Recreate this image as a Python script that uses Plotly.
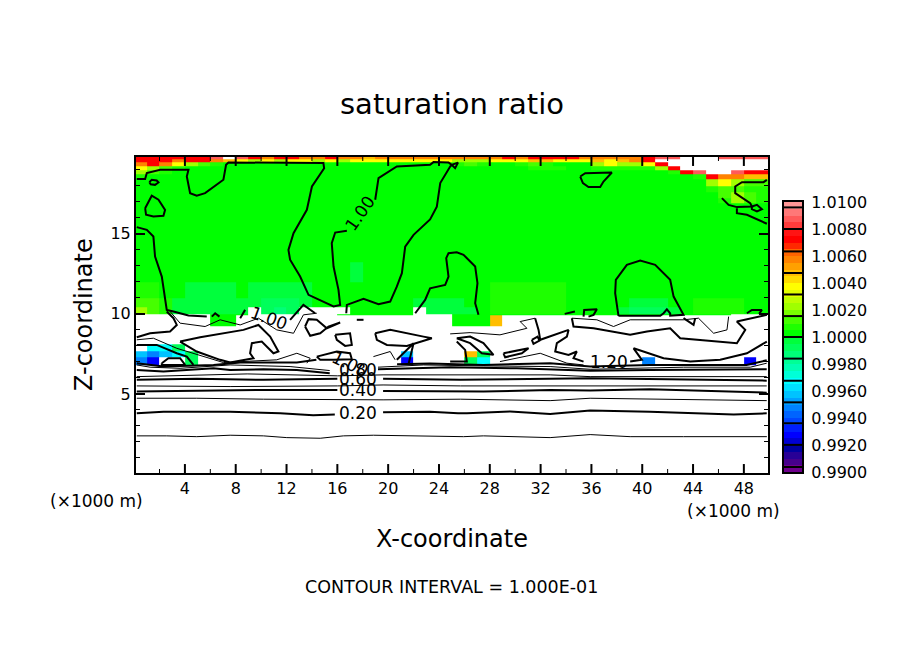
import plotly.graph_objects as go

# shades of the ratio field (None = outside the colour range, left white)
W = None
P = 1.0088
R = 1.0072
O = 1.0055
A = 1.0047
Y = 1.0037
K = 1.0022
L = 1.0012
H = 1.0007
G = 1.0002
S = 0.9998
T = 0.9993
U = 0.9987
C = 0.9967
D = 0.9957
E = 0.9947
B = 0.9927

x_edges = list(range(0, 51))
y_edges = [19.85, 19.65, 19.5, 19.2, 19.0, 18.7, 18.4, 18.0, 17.6, 17.2, 16.9, 13.2, 12.0, 11.0, 10.4, 10.0, 9.92, 9.25, 8.1, 7.7, 7.3, 6.8]

row_01 = [R,R,R,R,R,R,P,W,P,R, O,R,R,O,O,R,O,O,A,O, O,O,O,O,O,O,O,O,O,R, O,R,R,R,R,O,O,O,O,O, R,P,P,W,W,W,P,P,P,P]
row_02 = [R,R,R,O,R,R,O,A,Y,K, Y,K,Y,Y,K,Y,K,Y,Y,Y, Y,Y,Y,Y,Y,K,K,K,Y,Y, Y,A,A,Y,Y,Y,A,Y,A,O, R,W,W,W,W,W,W,W,W,W]
row_03 = [O,R,O,Y,K,L,H,G,G,G, G,G,G,G,G,G,G,G,G,G, G,G,G,G,G,H,L,H,G,G, H,L,H,G,G,G,K,Y,K,K, Y,R,W,W,W,W,W,W,W,W]
row_04 = [Y,K,L,H,G,G,G,G,G,G, G,G,G,G,G,G,G,G,G,G, G,G,G,G,G,G,G,G,G,G, G,H,H,H,G,G,H,H,H,H, H,K,R,W,W,W,W,W,W,W]
row_05 = [K,L,H,G,G,G,G,G,G,G, G,G,G,G,G,G,G,G,G,G, G,G,G,G,G,G,G,G,G,G, G,G,G,G,G,G,G,G,G,G, G,G,H,R,P,W,W,P,R,R]
row_06 = [H,G,G,G,G,G,G,G,G,G, G,G,G,G,G,G,G,G,G,G, G,G,G,G,G,G,G,G,G,G, G,G,G,G,G,G,G,G,G,G, G,G,G,G,H,R,O,O,A,A]
row_07 = [G,G,G,G,G,G,G,G,G,G, G,G,G,G,G,G,G,G,G,G, G,G,G,G,G,G,G,G,G,G, G,G,G,G,G,G,G,G,G,G, G,G,G,G,G,K,Y,K,L,L]
row_08 = [G,G,G,G,G,G,G,G,G,G, G,G,G,G,G,G,G,G,G,G, G,G,G,G,G,G,G,G,G,G, G,G,G,G,G,G,G,G,G,G, G,G,G,G,G,H,L,L,H,H]
row_09 = [G,G,G,G,G,G,G,G,G,G, G,G,G,G,G,G,G,G,G,G, G,G,G,G,G,G,G,G,G,G, G,G,G,G,G,G,G,G,G,G, G,G,G,G,G,G,L,K,L,H]
row_10 = [G,G,G,G,G,G,G,G,G,G, G,G,G,G,G,G,G,G,G,G, G,G,G,G,G,G,G,G,G,G, G,G,G,G,G,G,G,G,G,G, G,G,G,G,G,G,H,K,L,H]
row_11 = [G,G,G,G,G,G,G,G,G,G, G,G,G,G,G,G,G,G,G,G, G,G,G,G,G,G,G,G,G,G, G,G,G,G,G,G,G,G,G,G, G,G,G,G,G,G,G,G,G,G]
row_12 = [G,G,G,G,G,G,G,G,G,G, G,G,G,G,G,G,G,S,G,G, G,G,G,G,G,G,G,G,G,G, G,G,G,G,G,G,G,G,G,G, G,G,G,G,G,G,G,G,G,G]
row_13 = [H,H,G,G,S,S,S,S,G,S, S,S,S,S,G,G,G,G,G,G, G,G,G,G,G,G,G,G,H,H, H,H,H,H,G,G,G,G,G,G, G,G,G,G,G,G,G,G,G,G]
row_14 = [L,L,H,S,S,S,S,S,S,S, T,T,T,S,G,G,G,G,G,G, G,G,S,S,S,S,G,G,H,H, H,H,H,H,G,G,G,G,G,S, S,S,G,G,H,H,H,H,G,G]
row_15 = [K,L,H,S,S,S,S,S,S,W, T,U,T,W,W,W,W,G,G,G, G,G,W,S,S,S,S,G,H,H, H,H,H,H,G,G,G,G,S,T, T,T,S,G,H,H,H,H,G,G]
row_16 = [W,W,W,W,W,W,G,G,G,W, W,W,W,W,W,W,G,G,G,G, G,G,W,W,W,G,G,G,G,G, G,G,G,G,G,G,G,G,G,G, G,G,G,G,G,G,G,W,W,W]
row_17 = [W,W,W,W,W,W,G,G,W,W, W,W,W,W,W,W,W,W,W,W, W,W,W,W,W,G,G,G,A,W, W,W,W,W,W,W,W,W,W,W, W,W,W,W,W,W,W,W,W,W]
row_18 = [W,W,W,W,W,W,W,W,W,W, W,W,W,W,W,W,W,W,W,W, W,W,W,W,W,W,W,W,W,W, W,W,W,W,W,W,W,W,W,W, W,W,W,W,W,W,W,W,W,W]
row_19 = [W,C,C,T,W,W,W,W,W,W, W,W,W,W,W,W,W,W,W,W, W,W,W,W,W,W,W,W,W,W, W,W,W,W,W,W,W,W,W,W, W,W,W,W,W,W,W,W,W,W]
row_20 = [D,E,D,C,T,W,W,W,W,W, W,W,W,W,W,W,W,W,W,W, W,D,W,W,W,W,A,T,W,W, W,W,W,W,W,W,W,W,W,W, W,W,W,W,W,W,W,W,W,W]
row_21 = [E,B,W,W,T,W,W,W,W,W, W,W,W,W,W,W,W,W,W,W, W,B,W,W,W,W,T,C,W,W, W,W,W,W,W,W,W,W,W,W, E,W,W,W,W,W,W,W,B,W]

field_rows = [row_01, row_02, row_03, row_04, row_05, row_06, row_07, row_08, row_09, row_10, row_11,
              row_12, row_13, row_14, row_15, row_16, row_17, row_18, row_19, row_20, row_21]

# colour bar: level edges, colours from the top band down, black separators, labels
band_edges = [1.0100, 1.0095, 1.0090, 1.0085, 1.0080, 1.0075, 1.0070, 1.0065, 1.0060, 1.0055,
              1.0050, 1.0045, 1.0040, 1.0035, 1.0030, 1.0025, 1.0020, 1.0015, 1.0010, 1.0005,
              1.0000, 0.9995, 0.9990, 0.9985, 0.9980, 0.9975, 0.9970, 0.9965, 0.9960, 0.9955,
              0.9950, 0.9945, 0.9940, 0.9935, 0.9930, 0.9925, 0.9920, 0.9915, 0.9910, 0.9905, 0.9900]
band_colors = ["rgb(255,150,150)", "rgb(255,120,120)", "rgb(255,90,90)", "rgb(255,60,60)", "rgb(255,20,20)",
               "rgb(255,0,0)", "rgb(255,40,0)", "rgb(255,100,0)", "rgb(255,130,0)", "rgb(255,160,0)",
               "rgb(255,190,0)", "rgb(255,220,0)", "rgb(255,255,0)", "rgb(225,255,0)", "rgb(190,255,0)",
               "rgb(160,255,0)", "rgb(120,255,0)", "rgb(70,255,0)", "rgb(30,255,0)", "rgb(0,255,0)",
               "rgb(0,255,60)", "rgb(0,255,90)", "rgb(0,255,120)", "rgb(0,255,150)", "rgb(0,255,180)",
               "rgb(0,255,215)", "rgb(0,255,255)", "rgb(0,225,255)", "rgb(0,195,255)", "rgb(0,160,255)",
               "rgb(0,130,255)", "rgb(0,100,255)", "rgb(0,70,255)", "rgb(0,30,255)", "rgb(0,0,255)",
               "rgb(0,0,210)", "rgb(0,0,160)", "rgb(40,0,150)", "rgb(70,0,140)", "rgb(110,0,140)"]
bar_separators = [1.0096, 1.0080, 1.00634, 1.00474, 1.00315, 1.00155, 1.0000, 0.9984, 0.99676, 0.99516, 0.99361, 0.99201, 0.99037]
bar_ticks = [0.99, 0.992, 0.994, 0.996, 0.998, 1.0, 1.002, 1.004, 1.006, 1.008, 1.01]
bar_labels = ["0.9900", "0.9920", "0.9940", "0.9960", "0.9980", "1.0000", "1.0020", "1.0040", "1.0060", "1.0080", "1.0100"]

x_ticks = [4, 8, 12, 16, 20, 24, 28, 32, 36, 40, 44, 48]
x_minor = [2, 6, 10, 14, 18, 22, 26, 30, 34, 38, 42, 46]
y_ticks = [5, 10, 15]
y_minor = [1, 2, 3, 4, 6, 7, 8, 9, 11, 12, 13, 14, 16, 17, 18, 19]

# contour lines, (x km, z km)
c100_a = [(.21,18.42),(.87,18.42),(1.0,18.8),(2.05,19.0),(4.28,19.0),(4.15,18.58),(4.41,17.54),(4.93,17.38),(5.59,17.54),(7.03,18.38),(7.24,19.31),(7.43,19.46),(14.9,19.42),(14.96,19.1),(14.0,17.96),(13.6,16.5),(12.55,15.04),(12.15,14.0),(12.28,13.38),(13.07,12.33),(13.73,11.19),(15.7,10.46),(16.22,10.56),(16.09,11.5),(15.7,12.96),(15.56,14.42),(15.83,15.08),(16.75,15.19)]
c100_b = [(18.98,17.13),(19.24,18.48),(20.68,19.21),(23.3,19.31),(23.57,19.48),(24.75,19.46),(25.0,19.31),(25.27,19.1),(25.5,19.45),(25.0,19.31),(24.88,19.2),(24.1,18.17),(23.83,16.7),(23.3,15.9),(22,14.94),(21.34,14.2),(21.08,12.54),(20.68,11.7),(20.16,10.77),(19.24,10.6),(18.06,10.94),(16.75,10.56),(16.7,10.04)]
c100_c = [(22.13,10.04),(22.91,10.87),(23.3,11.6),(24.49,11.81),(24.75,12.33),(24.57,13.48),(24.75,13.79),(25.4,13.85),(25.93,13.69),(26.85,12.96),(27.03,11.92),(26.85,10.67),(27.11,9.94)]
c100_d = [(.21,15.42),(1.0,15.25),(1.52,14.83),(1.65,13.58),(2.18,12.33),(2.57,10.25),(3.1,10.15),(4.28,9.9),(5.72,9.83)]
c100_e = [(1.2,18.23),(1.39,18.38),(1.78,18.33),(1.92,18.21),(1.65,18.06),(1.31,18.1),(1.2,18.23)]
c100_f = [(.87,16.6),(1.39,17.38),(1.92,17.13),(2.44,16.5),(2.31,16.13),(1.52,16.08),(.94,16.19),(.87,16.6)]
c100_g = [(35.12,18.58),(35.51,18.79),(37.61,18.83),(36.95,18.27),(36.69,17.92),(35.77,17.92),(35.33,18.17),(35.12,18.58)]
c100_h = [(38.13,9.88),(37.87,11.29),(37.92,12.13),(38.79,13.06),(39.84,13.33),(41.02,13.06),(42.2,12.13),(42.47,11.08),(43.25,9.94),(42.2,9.88),(42.2,10.04),(41.94,10.29),(41.68,10.04),(41.42,9.88),(38.13,9.88)]
c100_i = [(35.38,9.83),(35.43,10.25),(36.43,10.29),(36.17,9.94),(35.77,9.83)]
c100_j = [(33.9,10.0),(34.7,10.15)]
c100_k = [(49.81,18.37),(49.55,18.23),(47.85,18.23),(47.32,17.96),(47.32,17.54),(48.5,16.92),(48.63,16.71),(47.45,16.67),(46.8,16.81),(46.27,17.23)]
c100_l = [(48.63,16.71),(49.03,16.81),(49.42,16.54),(49.03,16.4),(48.63,16.54),(48.63,16.71)]
c100_m = [(47.45,16.6),(47.45,16.29),(48.24,16.19),(49.81,15.63)]
c100_n = [(48.24,10.04),(48.63,10.25),(49.42,10.25),(49.2,10.0)]
c100_o = [(6.12,9.83),(6.38,10.04),(6.72,9.83)]
c100_p = [(8.35,9.73),(8.74,10.25)]
c100_q = [(12.28,9.62),(13.33,10.56),(14.25,10.04)]

c120_a = [(.21,8.54),(1.26,8.79),(2.83,8.9),(3.36,9.31),(3.1,9.73),(2.57,10.15)]
c120_b = [(3.62,8.27),(5.2,8.54),(8.61,9.0),(9.79,9.31),(10.71,8.58),(11.36,7.65),(10.97,7.54),(10.05,8.27),(9.27,8.17),(9.13,7.54),(9.4,7.23),(7.56,6.96),(6.77,7.13),(4.93,7.65),(3.62,8.27)]
c120_c = [(.21,8.06),(1.78,8.06),(3.36,7.54),(4.15,7.33),(4.67,6.81)]
c120_d = [(2.18,6.92),(2.7,7.23),(3.62,7.23),(4.02,6.81),(2.18,6.81),(2.18,6.92)]
c120_e = [(13.46,9.21),(13.73,9.67),(14.38,9.63),(15.17,9.1),(16.22,9.46),(15.3,9.21),(14.65,8.79),(13.86,8.63),(13.46,9.21)]
c120_f = [(15.83,8.69),(17.0,8.79),(17.14,8.06),(16.61,8.0),(15.96,8.38),(15.83,8.69)]
c120_g = [(14.38,7.33),(15.96,7.65),(17.0,7.54),(17.14,7.17),(15.7,7.13),(14.65,7.13),(14.38,7.33)]
c120_h = [(18.98,8.79),(20.16,9.0),(22.78,8.58),(23.44,8.48),(21.47,8.0),(19.9,8.06),(19.11,8.38),(18.98,8.79)]
c120_i = [(20.68,7.13),(22,8.17),(21.6,6.85)]
c120_j = [(17.53,9.63),(18.06,9.63)]
c120_k = [(25.4,8.48),(26.45,8.58),(27.5,8.17),(28.29,7.44),(27.37,7.54),(26.45,8.17),(25.4,8.48)]
c120_l = [(24.88,7.02),(26.19,7.02),(26.06,7.75),(25.4,8.27)]
c120_m = [(29.08,7.54),(31.05,7.85),(30.52,7.54),(29.21,7.29),(29.08,7.54)]
c120_n = [(31.31,8.38),(31.76,8.58),(31.91,8.33),(31.44,8.13),(31.31,8.38)]
c120_o = [(31.57,9.73),(31.84,9.0),(31.97,8.38),(34.2,9.0),(34.07,8.58),(33.28,8.17),(33.15,7.65),(34.2,7.44),(34.85,7.65),(34.59,7.23),(35.38,7.02)]
c120_p = [(39.05,7.02),(39.97,7.13),(39.32,7.85),(41.68,7.23),(43.78,7.02),(46.14,7.13),(48.24,7.54),(49.81,8.27)]
c120_q = [(34.46,9.73),(34.59,9.21),(36.17,9.1),(39.05,8.69),(40.37,8.9),(42.2,9.1),(42.99,8.48),(47.45,8.17),(48.11,9.0),(47.45,9.52),(49.81,9.94)]
c120_r = [(43.25,9.73),(44.04,9.31),(44.17,9.73)]

c110_a = [(.21,8.38),(1.52,8.48),(3.36,7.85),(5.46,7.33),(7.03,6.96),(11.23,7.13),(12.81,7.54),(13.86,7.23),(13.6,6.92)]
c110_b = [(2.83,10.15),(3.62,9.42),(5.59,9.21),(6.77,9.63),(8.35,9.31),(9.79,9.73),(11.23,9.0),(12.55,8.79),(13.33,9.94),(14.38,10.04)]
c110_c = [(18.84,7.33),(20.16,7.65),(20.55,7.13)]
c110_d = [(24.88,8.75),(26.45,8.83),(28.8,8.69),(30.92,9.1),(30.39,9.52),(31.57,9.73)]
c110_e = [(34.46,9.73),(36.43,9.63),(37.74,9.21),(39.05,9.63),(43.25,9.63),(44.43,9.73),(45.62,8.79),(46.67,9.0),(46.8,9.83)]
c110_f = [(28.8,7.02),(31.97,7.54),(34.07,6.92),(35.38,6.81)]

c010 = [(.21,2.38),(2.57,2.38),(4.93,2.33),(7.56,2.42),(10.18,2.38),(12.02,2.27),(14.65,2.23),(16.48,2.38),(18.84,2.42),(23.3,2.38),(25.93,2.33),(27.5,2.38),(30.13,2.33),(32.75,2.27),(35.9,2.46),(39.05,2.33),(43.25,2.33),(49.81,2.33)]
c020_a = [(.21,3.79),(2.31,3.88),(7.56,3.88),(11.5,3.79),(14.1,3.67),(15.8,3.71)]
c020_b = [(19.6,3.85),(23.3,3.88),(25.5,3.79),(26.2,3.79),(29.6,3.9),(32.75,3.75),(35.9,3.96),(40.6,3.88),(47.2,3.71),(49.8,3.79)]
c030 = [(.21,4.73),(4.93,4.73),(10.18,4.67),(16,4.63),(19.6,4.63),(25.7,4.67),(30.13,4.63),(32.75,4.58),(35.9,4.73),(40.6,4.67),(49.8,4.58)]
c040_a = [(.21,5.15),(4.93,5.19),(10.18,5.25),(16,5.25)]
c040_b = [(19.6,5.19),(25.5,5.15),(27.5,5.15),(32.75,5.25),(35.9,5.21),(40.6,5.29),(49.8,5.08)]
c050 = [(.21,5.5),(7.56,5.46),(16,5.5),(19.6,5.56),(25.7,5.5),(35.9,5.5),(49.8,5.5)]
c060_a = [(.21,5.88),(4.93,5.94),(10.18,5.88),(16,5.94)]
c060_b = [(19.6,5.94),(25.7,5.88),(35.9,5.98),(49.8,5.83)]
c070 = [(.21,6.08),(4.93,6.19),(8.9,6.25),(16,6.13),(19.6,6.19),(32.75,6.19),(35.9,6.08),(49.8,6.08)]
c080_a = [(.21,6.5),(2.31,6.4),(6.25,6.6),(7.56,6.5),(10.18,6.54),(12.81,6.5),(15.4,6.29)]
c080_b = [(19.2,6.54),(23.3,6.6),(24.88,6.67),(30.13,6.6),(35.9,6.44),(40.6,6.5),(45.9,6.5),(49.8,6.54)]
c090_a = [(.21,6.81),(1.26,6.67),(3.62,6.6),(7.56,6.81),(12.28,6.71),(15.4,6.46)]
c090_b = [(19.2,6.67),(22.78,6.81),(27.5,6.75),(32.75,6.71),(35.9,6.54),(43.25,6.67),(48.5,6.67),(49.8,6.92)]
c100_low_a = [(.21,6.92),(2.31,6.71),(6.25,6.81),(8.35,6.96),(12.81,6.96),(14.35,7.13)]
c100_low_b = [(20.7,6.85),(23.3,6.9),(27.5,6.81),(32.75,6.92),(35.9,6.71),(40.6,6.81),(48.2,6.81),(49.8,7.1)]

thick_lines = [c100_a, c100_b, c100_c, c100_d, c100_e, c100_f, c100_g, c100_h, c100_i, c100_j, c100_k, c100_l,
               c100_m, c100_n, c100_o, c100_p, c100_q, c120_a, c120_b, c120_c, c120_d, c120_e, c120_f, c120_g,
               c120_h, c120_i, c120_j, c120_k, c120_l, c120_m, c120_n, c120_o, c120_p, c120_q, c120_r,
               c020_a, c020_b, c040_a, c040_b, c060_a, c060_b, c080_a, c080_b, c100_low_a, c100_low_b]
thin_lines = [c110_a, c110_b, c110_c, c110_d, c110_e, c110_f, c010, c030, c050, c070, c090_a, c090_b]

# contour labels: text, x, z, angle
contour_labels = [("0.20", 17.66, 3.83, 0), ("0.40", 17.66, 5.25, 0), ("0.60", 17.66, 5.92, 0), ("0.80", 17.66, 6.5, 0),
                  ("1.00", 17.0, 6.85, 25), ("1.20", 37.35, 7.02, 0), ("1.00", 17.8, 16.29, -55), ("1.00", 10.6, 9.73, 20)]

W_PX, H_PX = 904, 654
BLACK = "black"
FONT = "DejaVu Sans"
X_RANGE = [0.15, 49.9]
Y_RANGE = [0.06, 19.8]


def xf(px):
    return px / W_PX


def yf(px):
    return 1 - px / H_PX


def x_tick_trace(values, length, width):
    # short marks up from the bottom axis and down from the top axis
    xs, ys = [], []
    for v in values:
        xs += [v, v, None, v, v, None]
        ys += [Y_RANGE[0], Y_RANGE[0] + length, None, Y_RANGE[1], Y_RANGE[1] - length, None]
    return go.Scatter(x=xs, y=ys, mode="lines", line=dict(color=BLACK, width=width), showlegend=False, hoverinfo="skip")


fig = go.Figure()

fig.add_trace(go.Heatmap(x=x_edges, y=y_edges, z=field_rows, coloraxis="coloraxis", hoverongaps=False))

for pts in thick_lines:
    fig.add_trace(go.Scatter(x=[p[0] for p in pts], y=[p[1] for p in pts], mode="lines",
                             line=dict(color=BLACK, width=2), showlegend=False, hoverinfo="skip"))
for pts in thin_lines:
    fig.add_trace(go.Scatter(x=[p[0] for p in pts], y=[p[1] for p in pts], mode="lines",
                             line=dict(color=BLACK, width=1), showlegend=False, hoverinfo="skip"))

fig.add_trace(x_tick_trace(x_ticks, 0.56, 2))
fig.add_trace(x_tick_trace(x_minor, 0.25, 1))

# colour bar drawn on its own axes so the black bars can sit apart from the labels
fig.add_trace(go.Heatmap(x=[0, 1], y=band_edges, z=[[(band_edges[i] + band_edges[i + 1]) / 2] for i in range(40)],
                         coloraxis="coloraxis", xaxis="x2", yaxis="y2", hoverinfo="skip"))
for v in bar_separators:
    fig.add_trace(go.Scatter(x=[0, 1], y=[v, v], mode="lines", line=dict(color=BLACK, width=2),
                             xaxis="x2", yaxis="y2", showlegend=False, hoverinfo="skip"))

n = len(band_colors)
colorscale = []
for i, col in enumerate(reversed(band_colors)):
    colorscale.append([i / n, col])
    colorscale.append([(i + 1) / n, col])

annotations = [dict(text=t, x=x, y=y, xref="x", yref="y", textangle=a, showarrow=False,
                    font=dict(family=FONT, size=17, color=BLACK))
               for t, x, y, a in contour_labels]
annotations += [
    dict(text="saturation ratio", x=xf(452), y=yf(104), font=dict(family=FONT, size=29, color=BLACK)),
    dict(text="Z-coordinate", x=xf(84), y=yf(315), textangle=-90, font=dict(family=FONT, size=24, color=BLACK)),
    dict(text="X-coordinate", x=xf(452), y=yf(539), font=dict(family=FONT, size=24, color=BLACK)),
    dict(text="(×1000 m)", x=xf(96), y=yf(501), font=dict(family=FONT, size=17, color=BLACK)),
    dict(text="(×1000 m)", x=xf(733), y=yf(511), font=dict(family=FONT, size=17, color=BLACK)),
    dict(text="CONTOUR INTERVAL = 1.000E-01", x=xf(451), y=yf(587), font=dict(family=FONT, size=17.5, color=BLACK)),
]
for a in annotations:
    a.update(xanchor="center", yanchor="middle")
for a in annotations[len(contour_labels):]:
    a.update(xref="paper", yref="paper", showarrow=False)

fig.update_layout(
    width=W_PX, height=H_PX, margin=dict(l=0, r=0, t=0, b=0, pad=0, autoexpand=False), autosize=False,
    paper_bgcolor="white", plot_bgcolor="white", showlegend=False,
    font=dict(family=FONT, size=14, color=BLACK),
    coloraxis=dict(cmin=0.99, cmax=1.01, colorscale=colorscale, showscale=False),
    annotations=annotations,
    xaxis=dict(domain=[xf(136), xf(768)], range=X_RANGE, tickmode="array", tickvals=x_ticks, ticks="outside", ticklen=0,
               showline=True, linecolor=BLACK, linewidth=2, mirror=True, showgrid=False, zeroline=False,
               tickfont=dict(family=FONT, size=16, color=BLACK)),
    yaxis=dict(domain=[yf(473), yf(157)], range=Y_RANGE, tickmode="array", tickvals=y_ticks, ticks="inside", ticklen=9, tickwidth=2,
               tickcolor=BLACK, showline=True, linecolor=BLACK, linewidth=2, mirror="allticks", showgrid=False, zeroline=False,
               minor=dict(tickmode="array", tickvals=y_minor, ticks="inside", ticklen=4, tickwidth=1, tickcolor=BLACK),
               tickfont=dict(family=FONT, size=16, color=BLACK)),
    xaxis2=dict(domain=[xf(784), xf(802)], range=[0, 1], anchor="y2", showticklabels=False, ticks="", showgrid=False,
                zeroline=False, showline=True, linecolor=BLACK, linewidth=2, mirror=True),
    yaxis2=dict(domain=[yf(472), yf(202)], range=[0.99, 1.01], anchor="x2", side="right", tickvals=bar_ticks, ticktext=bar_labels,
                ticks="", showgrid=False, zeroline=False, showline=True, linecolor=BLACK, linewidth=2, mirror=True,
                ticklabelstandoff=4, tickfont=dict(family=FONT, size=16, color=BLACK)),
)

fig.write_html("out.html", config=dict(displayModeBar=False), post_script="document.body.style.margin='0';")
